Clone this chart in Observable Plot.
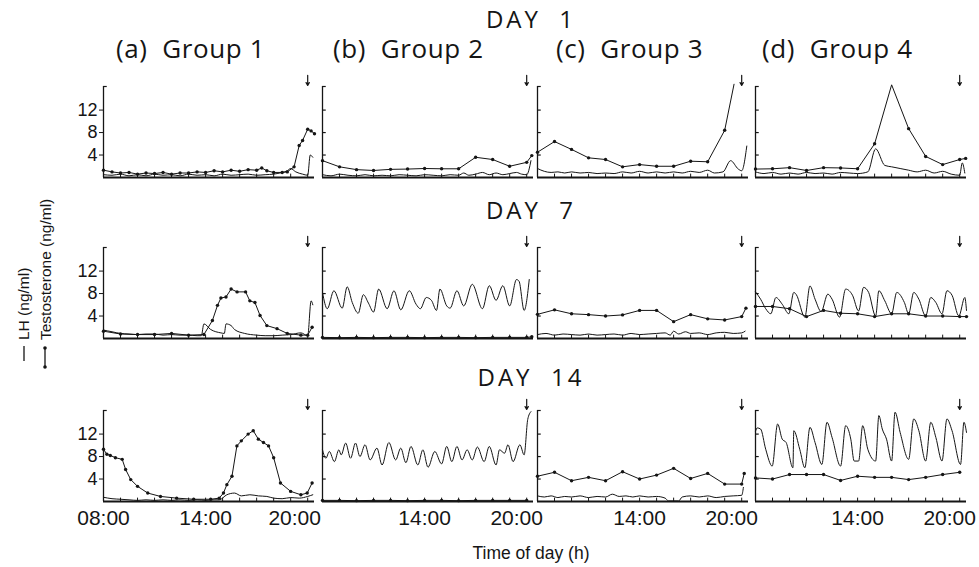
<!DOCTYPE html>
<html><head><meta charset="utf-8">
<script src="https://cdn.jsdelivr.net/npm/d3@7"></script>
<script src="https://cdn.jsdelivr.net/npm/@observablehq/plot@0.6"></script>
<style>
body{margin:0;background:#fff;}
#root{position:relative;width:979px;height:567px;overflow:hidden;background:#fff;}
#root > svg{position:absolute;}
</style></head><body><div id="root"></div>
<script>
// ---- tick / label values ----
const hours = [8,9,10,11,12,13,14,15,16,17,18,19,20];
const yTicks = [4, 8, 12];
const xLabelHoursFirst = [8, 14];
const xLabelHoursOther = [14];
const xLabelHoursEnd = [20];
const injectionHour = [20];
const dayTitles = ["DAY\u00a0\u00a01", "DAY\u00a0\u00a07", "DAY\u00a0\u00a014"];
const groupTitles = ["(a)\u00a0\u00a0Group 1", "(b)\u00a0\u00a0Group 2", "(c)\u00a0\u00a0Group 3", "(d)\u00a0\u00a0Group 4"];

// ---- data: [hour, ng/ml] ----
// DAY 1
const lh_a1 = [[8,0.5],[8.5,0.4],[9,0.6],[9.5,0.3],[10,0.5],[10.5,0.3],[11,0.6],[11.5,0.4],[12,0.5],[12.5,0.3],[13,0.6],[13.5,0.4],[14,0.5],[14.5,0.3],[15,0.6],[15.5,0.4],[16,0.5],[16.5,0.6],[17,0.4],[17.5,0.5],[18,0.6],[18.5,0.9],[18.8,1.2],[19.0,1.6],[19.3,1.0],[19.7,0.6],[20.0,0.4],[20.15,4.0],[20.3,3.6]];
const t_a1 = [[8,1.3],[8.5,1.0],[9,0.8],[9.5,0.9],[10,0.6],[10.5,0.8],[11,0.7],[11.5,0.9],[12,0.6],[12.5,0.8],[13,0.8],[13.5,1.0],[14,0.9],[14.5,1.2],[15,1.0],[15.5,1.3],[16,1.1],[16.5,1.4],[17,1.3],[17.3,1.7],[17.6,1.2],[18,0.9],[18.5,0.9],[18.8,1.0],[19.2,1.9],[19.5,5.7],[19.7,6.6],[20.0,8.6],[20.2,8.3],[20.4,7.8]];
const lh_b1 = [[8,0.5],[8.5,0.3],[9,0.6],[9.5,0.4],[10,0.3],[10.5,0.5],[11,0.3],[11.5,0.4],[12,0.3],[12.5,0.5],[13,0.4],[13.5,0.3],[14,0.5],[14.5,0.4],[15,0.3],[15.5,0.5],[16,0.4],[16.3,0.8],[16.6,0.4],[17,0.6],[17.4,0.9],[17.8,0.5],[18.2,0.8],[18.6,0.5],[19,0.7],[19.4,0.9],[19.7,0.6],[20,0.5],[20.25,3.0]];
const t_b1 = [[8,3.0],[9,1.9],[10,1.4],[11,1.25],[12,1.45],[13,1.5],[14,1.6],[15,1.55],[16,1.55],[17,3.6],[18,3.2],[19,2.0],[20,2.7],[20.3,3.9]];
const lh_c1 = [[8,1.6],[8.4,1.1],[8.8,0.9],[9.2,1.0],[9.6,0.8],[10,1.0],[10.5,0.8],[11,0.9],[11.5,0.7],[12,0.8],[12.5,0.7],[13,1.0],[13.5,0.8],[14,1.1],[14.5,0.8],[15,1.0],[15.5,0.8],[16,1.0],[16.5,0.8],[17,1.1],[17.5,0.9],[18,1.3],[18.4,0.8],[18.9,1.0],[19.35,3.0],[19.8,1.5],[20.0,1.2],[20.3,5.6]];
const t_c1 = [[8,4.5],[9,6.4],[10,5.0],[11,3.5],[12,3.2],[13,1.9],[14,2.3],[15,2.0],[16,2.0],[17,2.9],[18,2.8],[19,8.4],[19.55,16.6]];
const lh_d1 = [[8,1.0],[8.5,0.7],[9,0.9],[9.5,0.6],[10,0.8],[10.5,0.6],[11,0.9],[11.5,0.7],[12,0.8],[12.5,0.6],[13,0.9],[13.5,0.8],[14,0.7],[14.6,1.0],[15.06,5.1],[15.6,2.15],[16,1.9],[16.5,1.6],[17,1.3],[17.5,1.0],[18,1.3],[18.5,0.8],[19,1.1],[19.5,0.6],[20,0.4],[20.15,2.6],[20.3,0.8]];
const t_d1 = [[8,1.5],[9,1.55],[10,1.75],[11,1.25],[12,1.75],[13,1.7],[14,1.55],[15,6.0],[16,16.5],[17,8.7],[18,3.75],[19,2.3],[20,3.2],[20.35,3.4]];
// DAY 7
const lh_a2 = [[8,1.5],[8.5,1.2],[9,0.9],[9.5,0.8],[10,0.7],[10.5,0.8],[11,0.8],[11.5,0.6],[12,0.7],[12.5,0.6],[13,0.6],[13.5,0.5],[13.75,0.5],[13.9,2.6],[14.3,1.6],[14.9,1.0],[15.1,0.9],[15.2,2.6],[15.5,2.3],[15.7,1.6],[16.3,0.9],[17,0.6],[17.5,0.5],[18,0.5],[18.5,0.6],[19,0.7],[19.6,1.0],[20.0,0.5],[20.2,6.7],[20.3,6.0]];
const t_a2 = [[8,1.3],[9,0.8],[10,0.7],[11,0.7],[12,0.9],[13,0.6],[13.9,0.7],[14.4,3.2],[14.7,5.9],[14.9,7.2],[15.2,7.4],[15.5,8.8],[15.85,8.3],[16.35,8.3],[16.6,6.7],[16.9,6.4],[17.2,4.1],[17.6,2.3],[18.2,1.75],[18.8,0.9],[19.6,0.6],[20.0,0.6],[20.26,2.0]];
const lh_b2 = [[8.0,8.2],[8.28,5.3],[8.67,8.5],[9.16,5.4],[9.45,9.2],[9.75,6.4],[10.1,4.5],[10.4,7.8],[10.7,6.3],[11.0,4.7],[11.3,8.8],[11.8,5.3],[12.2,8.5],[12.6,5.1],[13.1,8.5],[13.5,6.1],[13.75,5.3],[14.1,7.3],[14.4,6.8],[14.7,5.0],[14.9,8.8],[15.3,5.8],[15.5,5.4],[15.9,8.5],[16.3,5.8],[16.8,9.65],[17.4,5.3],[17.8,9.4],[18.2,6.8],[18.6,9.4],[19.0,5.8],[19.4,10.5],[19.55,10.2],[19.85,5.0],[20.15,10.5]];
const t_b2 = [[8,0.2],[9,0.15],[10,0.2],[11,0.15],[12,0.2],[13,0.2],[14,0.15],[15,0.2],[16,0.2],[17,0.15],[18,0.2],[19,0.2],[20,0.2],[20.3,0.3]];
const lh_c2 = [[8,0.7],[8.5,0.9],[9,0.6],[9.5,0.8],[10,0.7],[10.5,0.6],[11,0.8],[11.5,0.6],[12,0.7],[12.5,0.8],[13,0.6],[13.5,0.9],[14,0.7],[14.5,0.8],[15,0.9],[15.5,1.0],[15.8,0.6],[16,1.3],[16.3,0.8],[16.7,1.2],[17,0.9],[17.5,1.0],[18,0.7],[18.5,1.0],[19,1.1],[19.5,0.9],[20,1.0],[20.2,1.3]];
const t_c2 = [[8,4.3],[9,5.1],[10,4.4],[11,4.25],[12,4.0],[13,4.2],[14,5.0],[15,5.0],[16,3.0],[17,4.25],[18,3.5],[19,3.3],[20,3.9],[20.25,5.4]];
const lh_d2 = [[8.0,8.3],[8.3,7.0],[8.6,5.3],[8.9,4.4],[9.2,7.3],[9.57,6.1],[9.96,4.4],[10.25,8.2],[10.4,7.8],[10.9,3.8],[11.2,9.35],[11.5,7.0],[11.86,4.8],[12.25,7.9],[12.5,7.0],[12.94,3.8],[13.3,8.8],[13.7,7.7],[14.06,4.9],[14.35,9.1],[14.65,8.2],[15.06,4.0],[15.25,8.5],[15.6,6.7],[16.0,4.4],[16.3,8.2],[16.75,6.4],[17.0,4.4],[17.3,8.2],[17.6,7.0],[18.0,4.0],[18.3,7.3],[18.6,6.4],[18.96,4.4],[19.25,8.5],[19.55,7.7],[19.95,4.0],[20.3,7.3],[20.4,5.0]];
const t_d2 = [[8,5.7],[9,5.7],[10,5.3],[11,3.9],[12,5.0],[13,4.5],[14,4.4],[15,3.9],[16,4.4],[17,4.4],[18,4.0],[19,4.0],[20,3.9],[20.4,3.9]];
// DAY 14
const lh_a3 = [[8,0.75],[8.5,0.5],[9,0.4],[9.5,0.3],[10,0.2],[10.5,0.3],[11,0.2],[11.5,0.3],[12,0.2],[12.5,0.3],[13,0.2],[13.5,0.3],[14,0.2],[14.5,0.3],[14.8,0.3],[15.25,1.2],[15.7,1.5],[16.1,1.0],[16.6,1.2],[17.1,1.0],[17.6,0.9],[18.0,0.6],[18.5,0.5],[19,0.7],[19.5,0.6],[20,0.9],[20.3,1.2]];
const t_a3 = [[8,9.3],[8.2,8.4],[8.4,8.2],[8.7,7.8],[9.1,7.5],[9.3,5.7],[9.6,3.9],[10,2.7],[10.6,1.5],[11.35,0.9],[12.3,0.6],[13.3,0.4],[14.3,0.4],[14.8,0.6],[15.05,1.5],[15.25,3.0],[15.55,4.5],[15.84,9.9],[16.1,10.8],[16.5,12.0],[16.8,12.6],[17.1,11.1],[17.4,10.5],[17.7,9.9],[18.0,7.8],[18.4,3.3],[19.0,1.8],[19.6,1.2],[19.97,1.5],[20.26,3.3]];
const lh_b3 = [[8.0,9.2],[8.2,7.7],[8.4,8.9],[8.7,7.1],[8.96,9.2],[9.1,8.3],[9.36,10.4],[9.65,7.7],[9.94,10.4],[10.2,8.0],[10.5,10.1],[10.8,7.4],[11.2,9.5],[11.5,6.5],[11.9,10.5],[12.3,7.4],[12.6,9.5],[12.9,6.9],[13.2,9.8],[13.6,6.5],[13.9,9.2],[14.2,6.1],[14.6,8.9],[15.0,6.7],[15.3,9.8],[15.6,7.1],[15.9,9.8],[16.2,7.4],[16.5,9.2],[16.8,7.4],[17.1,9.7],[17.5,7.1],[17.8,9.8],[18.2,6.5],[18.4,9.2],[18.7,8.6],[18.9,10.1],[19.2,7.1],[19.6,10.1],[19.85,8.3],[20.06,14.6],[20.25,16.0]];
const t_b3 = [[8,0.2],[9,0.2],[10,0.15],[11,0.2],[12,0.2],[13,0.15],[14,0.2],[15,0.2],[16,0.15],[17,0.2],[18,0.2],[19,0.2],[20,0.2]];
const lh_c3 = [[8,1.0],[8.4,0.8],[8.8,1.0],[9.2,0.7],[9.6,0.9],[10,0.8],[10.5,1.0],[11,0.7],[11.5,0.9],[12,0.8],[12.4,1.3],[12.8,0.9],[13.2,1.0],[13.6,0.8],[14,1.0],[14.5,0.8],[15,0.9],[15.5,0.6],[15.7,0.1],[16.3,0.1],[16.5,0.8],[17,1.0],[17.5,0.8],[18,1.0],[18.5,0.7],[19,0.9],[19.5,1.0],[20,1.1],[20.1,2.5]];
const t_c3 = [[8,4.5],[9,5.2],[10,3.7],[11,4.3],[12,3.7],[13,5.3],[14,4.0],[15,4.7],[16,5.9],[17,4.1],[18,5.0],[19,3.1],[20,3.1],[20.15,5.0]];
const lh_d3 = [[8.0,12.5],[8.1,13.1],[8.3,12.9],[8.6,9.3],[8.98,6.3],[9.3,13.8],[9.57,11.1],[9.8,10.5],[10.2,6.0],[10.25,12.6],[10.6,9.3],[10.9,6.0],[11.2,13.2],[11.5,10.5],[11.9,6.6],[12.2,14.1],[12.5,11.4],[13.0,6.3],[13.3,13.5],[13.6,11.1],[13.8,7.2],[14.06,7.2],[14.3,13.5],[14.6,9.3],[15.06,7.2],[15.25,15.3],[15.45,12.9],[15.7,11.1],[16.0,7.2],[16.2,15.9],[16.5,12.3],[17.0,7.5],[17.3,14.7],[17.6,12.6],[18.0,7.2],[18.3,14.1],[18.6,11.4],[18.96,7.2],[19.25,14.7],[19.55,12.6],[20.05,6.6],[20.25,14.1],[20.4,12.3]];
const t_d3 = [[8,4.2],[9,4.0],[10,4.8],[11,4.8],[12,4.8],[13,3.75],[14,4.5],[15,4.3],[16,4.3],[17,3.9],[18,4.3],[19,4.8],[20,5.2]];

const panels = [
  [lh_a1, t_a1], [lh_b1, t_b1], [lh_c1, t_c1], [lh_d1, t_d1],
  [lh_a2, t_a2], [lh_b2, t_b2], [lh_c2, t_c2], [lh_d2, t_d2],
  [lh_a3, t_a3], [lh_b3, t_b3], [lh_c3, t_c3], [lh_d3, t_d3]
];

// ---- layout ----
const colLeft = [103, 322, 537, 755];
const rowBottom = [177, 338, 501];
const W = 211, H = 91, ml = 36, mr = 10, mt = 26, mb = 34;
const ink = "#151515";
const root = d3.select("#root");
const X = d => d[0], Y = d => d[1];
const fmt = h => String(h).padStart(2, "0") + ":00";
const numFont = "'Liberation Sans', Arial, sans-serif";

panels.forEach(([lh, t], i) => {
  const row = Math.floor(i / 4), col = i % 4;
  const first = col === 0, bottom = row === 2;
  const marks = [
    Plot.ruleX([8], {y1: 0, y2: 16.2, stroke: ink, strokeWidth: 1.3}),
    Plot.ruleY([16.2], {x1: 8, x2: 8.22, stroke: ink, strokeWidth: 1.2}),
    Plot.ruleX(hours.slice(1), {y1: 0, y2: 0.6, stroke: ink, strokeWidth: 1}),
    Plot.ruleY([0], {x1: 8, x2: 20.4, stroke: ink, strokeWidth: 2.2}),
    Plot.line(lh, {x: X, y: Y, stroke: ink, strokeWidth: 1, curve: "monotone-x"}),
    Plot.line(t, {x: X, y: Y, stroke: ink, strokeWidth: 1}),
    Plot.dot(t, {x: X, y: Y, r: 1.7, fill: ink, stroke: "none", filter: d => d[1] <= 16.2}),
    Plot.arrow(injectionHour, {x1: d => d, x2: d => d, y1: 18.2, y2: 16.4, stroke: ink, strokeWidth: 1.2, headLength: 4})
  ];
  if (first) marks.push(Plot.axisY({ticks: yTicks, tickSize: 4, tickPadding: 2, label: null, fontSize: 18}));
  else marks.push(Plot.ruleY(yTicks, {x1: 8, x2: 8.22, stroke: ink, strokeWidth: 1.2}));
  if (bottom) {
    marks.push(Plot.axisX({ticks: first ? xLabelHoursFirst : xLabelHoursOther, tickSize: 0, tickPadding: 9, tickFormat: fmt, label: null, fontSize: 21}));
    marks.push(Plot.axisX({ticks: xLabelHoursEnd, tickSize: 0, tickPadding: 9, tickFormat: fmt, label: null, fontSize: 21, dx: first ? -13 : -10}));
  }
  const chart = Plot.plot({
    width: ml + W + mr, height: mt + H + mb,
    marginLeft: ml, marginRight: mr, marginTop: mt, marginBottom: mb,
    x: {domain: [8, 20.4], axis: bottom ? undefined : null},
    y: {domain: [0, 16.2], axis: first ? undefined : null},
    style: {background: "transparent", overflow: "visible", color: ink, fontFamily: numFont, fontSize: "18px"},
    marks
  });
  chart.style.position = "absolute";
  chart.style.left = (colLeft[col] - ml) + "px";
  chart.style.top = (rowBottom[row] - H - mt) + "px";
  root.node().appendChild(chart);
});

// ---- titles & legend overlay ----
const ov = root.append("svg").attr("width", 979).attr("height", 567)
  .style("left", "0px").style("top", "0px");
const titleFont = "'Open Sans', 'Noto Sans', sans-serif";
[28, 219, 386].forEach((y, i) => {
  ov.append("text").attr("x", 531).attr("y", y).attr("text-anchor", "middle")
    .attr("font-family", titleFont).attr("font-size", 24).attr("letter-spacing", 3)
    .attr("fill", ink).text(dayTitles[i]);
});
[116, 333, 556, 762].forEach((x, i) => {
  ov.append("text").attr("x", x).attr("y", 58)
    .attr("font-family", titleFont).attr("font-size", 26).attr("letter-spacing", 0.6)
    .attr("fill", ink).text(groupTitles[i]);
});
ov.append("text").attr("x", 531).attr("y", 559).attr("text-anchor", "middle")
  .attr("font-family", numFont).attr("font-size", 17.5)
  .attr("fill", ink).text("Time of day (h)");
// rotated axis labels
ov.append("text").attr("transform", "translate(29,340) rotate(-90)")
  .attr("font-family", numFont).attr("font-size", 15.5)
  .attr("fill", ink).text("LH (ng/ml)");
ov.append("text").attr("transform", "translate(51,340) rotate(-90)")
  .attr("font-family", numFont).attr("font-size", 15.5)
  .attr("fill", ink).text("Testosterone (ng/ml)");
// legend keys
ov.append("line").attr("x1", 24).attr("x2", 24).attr("y1", 346).attr("y2", 361).attr("stroke", ink).attr("stroke-width", 1.3);
ov.append("line").attr("x1", 45).attr("x2", 45).attr("y1", 348).attr("y2", 367).attr("stroke", ink).attr("stroke-width", 1.3);
ov.append("circle").attr("cx", 45).attr("cy", 348).attr("r", 1.8).attr("fill", ink);
ov.append("circle").attr("cx", 45).attr("cy", 367).attr("r", 1.8).attr("fill", ink);
</script></body></html>
